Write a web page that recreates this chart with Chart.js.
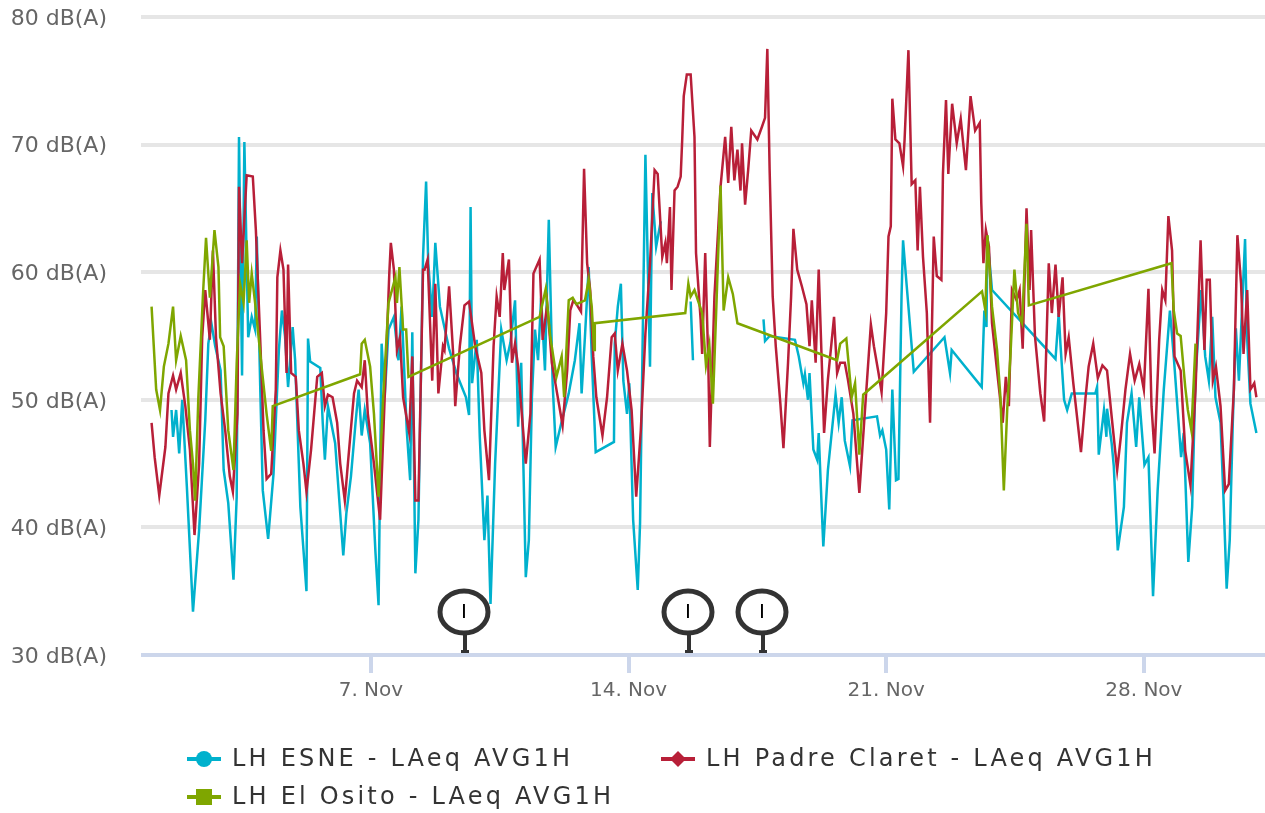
<!DOCTYPE html>
<html>
<head>
<meta charset="utf-8">
<style>html,body{margin:0;padding:0;background:#fff;overflow:hidden}#wrap{width:1265px;height:813px}canvas{display:block}</style>
<script src="https://cdn.jsdelivr.net/npm/chart.js@4"></script>
</head>
<body>
<div id="wrap"><canvas id="c" width="1265" height="813"></canvas></div>
<script>
// x = hours since 1 Nov 00:00, y = dB(A)
const tickHours = [144, 312, 480, 648];
const tickLabels = ['7. Nov', '14. Nov', '21. Nov', '28. Nov'];
const dbTicks = [30, 40, 50, 60, 70, 80];
const flagHours = [205, 351, 399];
const flagLabels = ['I', 'I', 'I'];
const seriesNames = ['LH ESNE - LAeq AVG1H', 'LH Padre Claret - LAeq AVG1H', 'LH El Osito - LAeq AVG1H'];

const esne = [[14,49.2],[15,47.1],[17,49.2],[19,45.8],[21,50],[24,43.2],[28,33.4],[32,39.8],[36,48.4],[38,54.4],[40,56],[42.5,54.2],[46,52.3],[48,44.5],[51,41.9],[54.4,35.9],[56.5,42.4],[58,70.6],[60,51.9],[61.5,70.2],[64,54.9],[66.3,56.5],[68.5,55.5],[69.6,62.8],[72,50.2],[73.5,42.9],[77,39.1],[80.5,44.2],[84,53.9],[86,57],[88,55],[90,51],[93,55.7],[94.6,53.1],[97,45],[98,41.6],[102,35],[103,54.8],[104.4,53],[111,52.5],[112.6,48.2],[114,45.3],[116,49.5],[120.7,46.6],[126,37.8],[128,41.1],[131,44],[134,48.2],[136,50.8],[138,47.2],[140,49.2],[143.5,46.6],[147,38],[149,33.9],[151,54.4],[153,50.2],[155.5,55.5],[159,56.5],[162,53.1],[164,57.3],[167.4,47.6],[169.6,43.7],[171,55.3],[173,36.4],[175,40.6],[178,61.2],[180,67.1],[181.4,60.7],[184,56.5],[186,62.3],[189,57.3],[195,54],[200,52],[206,50.2],[208,48.8],[209,65.1],[210,51.3],[213,54.7],[215,47.1],[218,39],[220,42.5],[222,34],[225,45],[229,55.5],[232.5,53.1],[235,54.5],[238,57.8],[240,47.9],[242,52.9],[245,36.1],[247,39],[249,50.2],[251,55.5],[253,53.1],[255,58],[257.5,52.3],[260,64.1],[262.5,51.3],[264.5,46.3],[268,48.1],[273,50.5],[277,53.1],[280,56],[281.4,50.5],[283.6,55],[286,60.4],[288,53.4],[290.6,45.9],[302.5,46.7],[303,54.4],[305,57.3],[307,59.1],[308.6,51.5],[311,48.9],[312.5,51.3],[315,40.6],[318,35.1],[319.5,40.3],[321.6,58],[323,69.2],[326,52.6],[327.5,66.2],[330,62],[333,64],[335,null],[352.5,57.7],[354,53.1],[355,null],[400,56.3],[401,54.6],[404,55],[420.5,54.7],[423,53.4],[426,51.3],[427,52],[429,50],[430,52.1],[432.5,46.1],[435,45.3],[436,47.4],[438,41.4],[439,38.5],[442,44.5],[447,50.4],[449,48.2],[451,50.2],[453,46.8],[456.4,44.8],[458,48.4],[474,48.7],[476,47.2],[477.5,47.6],[480,46.1],[482,41.4],[484,50.8],[486.4,43.7],[488,43.8],[490,58.1],[491,62.5],[493.4,58.9],[498,52.2],[518,54.9],[521.6,52.1],[522.7,53.9],[542.3,51],[544,57],[545.4,55.7],[546,62.8],[549,58.6],[590.4,53.2],[592.5,56.8],[593.6,54.4],[596,50],[598,49.2],[601,50.5],[616.4,50.5],[617.5,51],[618.6,45.7],[622,49.2],[623.6,47.1],[624,49.3],[627,46.6],[628.4,44.8],[631,38.2],[635,41.6],[637,48.2],[640,50.5],[643,46.3],[645,50.2],[648.4,44.9],[651,45.5],[654,34.6],[657,42.9],[661,50.8],[665,57],[667.5,53.4],[672.3,45.5],[674,47.4],[677,37.3],[679.5,41.6],[681.7,51.8],[685.4,58.6],[688,53.4],[690.4,51.5],[692.6,56.5],[694.7,50.2],[698,48.2],[700,42.1],[702,35.2],[704,39],[706,48.2],[708,55.6],[710,51.5],[714,62.6],[715.4,54.7],[717.5,49.7],[721.4,47.4]];

const padre = [[1,48.2],[3,45.5],[6,42.5],[10,46.3],[12,50.5],[15,51.9],[17,50.8],[20,52.1],[23,49.5],[26,46.1],[29,39.4],[32,45],[34,54.9],[36,58.6],[39,54.7],[41,61.7],[43,54.9],[46,50.5],[49,47.6],[52,44],[54,42.8],[57,48.9],[58,66.7],[60,60.7],[63,67.6],[67,67.5],[69,63.3],[72,54.2],[74,47.6],[76,43.8],[79,44.2],[82,50.8],[83,59.6],[85,61.7],[87,60.2],[89,52.1],[90,60.6],[92,52.1],[95,51.8],[97,47.6],[100,45],[102,42.8],[105,46.1],[109,51.8],[112,52.1],[114,49.5],[116,50.4],[119,50.2],[122,48.2],[124,45],[127,42.1],[129,45],[133,50.5],[135,51.5],[138,51],[140,53.1],[142,48.9],[146,45],[150,40.6],[153,50.2],[156,59.9],[157,62.3],[159,60.2],[161,53.9],[163,54.9],[165,50.2],[169,47.4],[171,53.4],[173,42.1],[175,42.1],[178,60.2],[179,60.2],[181,61],[184,51.5],[186,59.1],[188,50.5],[191,54.2],[192,53.9],[195,58.9],[198,52.9],[199,49.5],[202,54.2],[205,57.4],[208,57.7],[212,54.2],[216,52.1],[218,47.6],[221,43.7],[224,54.2],[226,58.1],[228,56.5],[230,61.5],[231,58.6],[234,61],[236,52.9],[238,54.4],[240,52.6],[242,49.5],[245,45],[248,48.9],[250,59.9],[254,61],[256,54.7],[259,57.5],[262,52.9],[265,50.8],[269,48],[272,52.3],[274,57],[276,57.8],[278,57.5],[281,56.9],[283,68.1],[285,60.7],[287,58.6],[289,53.4],[291,50.2],[295,47.2],[298,50.2],[301,54.9],[303,55.2],[305,52.3],[308,54.4],[311,52.3],[314,49.2],[317,42.4],[320,47.6],[323,55.2],[326,60.7],[329,68],[331,67.7],[334,61.2],[336,62.3],[337,60.7],[339,65.1],[340,58.6],[342,66.4],[344,66.7],[346,67.5],[347,70.4],[348,73.8],[350,75.5],[352.5,75.5],[355,70.6],[356,61.5],[359,56.3],[360,53.6],[362,61.5],[364,52.9],[365,46.3],[368,58.1],[372,66.7],[375,70.6],[377,67],[379,71.4],[381,67.2],[383,69.6],[385,66.4],[386,70.1],[388,65.3],[390,68],[392,71.1],[396,70.4],[399,71.4],[401,72.1],[402.5,77.5],[404,68],[406,58.1],[408,54.2],[411,49.7],[413,46.2],[416,52.9],[418,58.1],[419.5,63.4],[422,60.2],[425,58.9],[428,57.5],[430,54.2],[431.5,57.8],[434,52.9],[436,60.2],[438,52.9],[439.5,47.4],[442,51.6],[446,56.5],[448,52.1],[450,52.9],[453,52.9],[455,51.6],[458.6,48.9],[462.5,42.7],[466,48.9],[470,55.9],[472,54.2],[475,52.1],[477,50.6],[480,56.8],[481.5,62.8],[483,63.6],[484,73.6],[486,70.4],[488.6,70.1],[491,68.3],[492,70.4],[494.5,77.4],[496.6,66.9],[499,67.2],[500.5,61.7],[502,66.7],[504,61.2],[506.5,56.8],[508.6,48.2],[511,62.8],[513,59.7],[516,59.4],[517,67.7],[519,73.5],[520.5,67.7],[523,73.2],[526,70.1],[528.6,72],[532,68],[535,73.8],[538,71.1],[541,71.7],[542,65.4],[543.4,60.7],[545,63.3],[547,62],[549,56],[552,52.6],[556,48.2],[558,51.8],[560,49.5],[562,58.6],[565,57.8],[567,58.6],[569,54],[571.5,65],[573.5,58.6],[574.5,63.3],[577,55],[580.5,50.5],[583,48.3],[586,60.7],[588,56.8],[590.4,60.6],[592.5,56.5],[595,59.6],[597,53.6],[599,54.9],[602,51.3],[607,45.9],[610,50.2],[612,52.6],[615,54.4],[618,51.7],[621,52.7],[624,52.3],[627,48.7],[630.6,44.5],[633,47.1],[636,50.8],[639,53.6],[642,51.5],[645,52.8],[648,50.8],[651,58.7],[653,49.5],[655,45.8],[658,54.7],[660,58.6],[662,57.8],[664,64.4],[666.4,61.7],[668,53.4],[672,52.3],[675,46],[678.4,43.3],[681.7,50.8],[684,58.9],[685,62.5],[687.5,53.9],[689,59.4],[691,59.4],[693,51.5],[695,52.6],[698,49.5],[701,42.9],[703.4,43.4],[706.7,50.8],[709,62.9],[711.4,59.1],[713,53.6],[715.4,58.6],[717.5,50.8],[720,51.3],[721.4,50.2]];

const osito = [[1,57.3],[4,50.8],[6.5,49.2],[9,52.6],[12,54.4],[15,57.3],[17,53.1],[20,55],[23.5,53.1],[26,47.6],[28,45],[29.4,42.1],[31.5,50.2],[34.4,58],[36.5,62.7],[39,58],[42,63.3],[44.6,60.4],[45.7,54.9],[48,54.2],[51,47.6],[54.4,44.5],[56.5,52.9],[58.7,59.1],[61,57.6],[63,62.5],[64.6,57.6],[66.3,59.9],[68.5,57.6],[73,52.3],[76,48.9],[79,46],[80,49.5],[137,52],[138,54.4],[140,54.7],[143.5,52.6],[146,48.9],[149,42.4],[152,50.2],[155.5,57.6],[160,59.6],[161,57.6],[162.6,60.4],[165,55.5],[167,55.5],[168.5,51.8],[254,56.5],[258,58.7],[261,54.9],[265,51.8],[268.4,53.4],[270,50.2],[273,57.8],[275.6,58],[278,57.5],[283.6,57.8],[286,59.4],[288,57.3],[289.5,53.9],[290,56],[349,56.8],[351,59.1],[352.5,58.1],[355,58.6],[360,56.8],[362.5,52.7],[364.7,54.3],[367,49.7],[369.5,58.1],[372,66.8],[374,57],[377,59.6],[380,58.3],[383,56],[448,53.1],[450,54.4],[454,54.8],[457.5,50.2],[459.7,51.3],[462.5,45.7],[465,50.4],[542.5,58.5],[544.7,57],[546,62.9],[549,57.3],[552.3,53.9],[554.5,50.2],[556.7,42.9],[559,49.5],[561,53.4],[563.6,60.2],[566,56.8],[568.6,56],[571.5,63.8],[573,57.4],[666,60.7],[667.5,57],[669.7,55.2],[672,55],[675,51],[676.7,49.2],[679,47.6],[681.7,54.4]];

const COLORS = {esne:'#00b1cd', padre:'#b81f38', osito:'#7fa600'};
const pts = a => a.map(p => ({x:p[0], y:p[1]}));
const FONT = 'DejaVu Sans, Verdana, sans-serif';

const flagsAndLegend = {
  id:'flagsAndLegend',
  afterDatasetsDraw(chart){
    const {ctx, scales:{x,y}} = chart;
    ctx.save();
    flagHours.forEach((h,i)=>{
      const px = Math.round(x.getPixelForValue(h)), base = y.getPixelForValue(30)-2;
      const cy = base-41;
      ctx.fillStyle='#333';
      ctx.fillRect(px-1,cy+18,4,base-cy-18);
      ctx.fillRect(px-3,base-3,8,3);
      ctx.strokeStyle='#333';
      ctx.beginPath(); ctx.ellipse(px,cy,24,21,0,0,Math.PI*2);
      ctx.fillStyle='#fff'; ctx.fill(); ctx.lineWidth=5; ctx.stroke();
      ctx.fillStyle='#000'; ctx.font='20px '+FONT; ctx.textAlign='center'; ctx.textBaseline='middle';
      ctx.fillText(flagLabels[i],px,cy+1);
    });
    ctx.restore();
  },
  afterDraw(chart){
    const {ctx} = chart;
    const items = [{x:187,y:759,shape:'circle'},{x:661,y:759,shape:'diamond'},{x:187,y:797,shape:'square'}];
    ctx.save();
    items.forEach((it,i)=>{
      const ds = chart.data.datasets[i];
      const c = ds.borderColor;
      ctx.strokeStyle=c; ctx.fillStyle=c; ctx.lineWidth=4;
      ctx.beginPath(); ctx.moveTo(it.x,it.y); ctx.lineTo(it.x+34,it.y); ctx.stroke();
      const mx = it.x+17;
      ctx.beginPath();
      if(it.shape==='circle') ctx.arc(mx,it.y,8,0,Math.PI*2);
      if(it.shape==='diamond'){ctx.moveTo(mx,it.y-8);ctx.lineTo(mx+8,it.y);ctx.lineTo(mx,it.y+8);ctx.lineTo(mx-8,it.y);ctx.closePath();}
      if(it.shape==='square') ctx.rect(mx-8,it.y-8,16,16);
      ctx.fill();
      ctx.fillStyle='#333'; ctx.font='24px '+FONT; ctx.textAlign='left'; ctx.textBaseline='middle';
      ctx.letterSpacing='3.2px';
      ctx.fillText(ds.label,it.x+45,it.y+1);
      ctx.letterSpacing='0px';
    });
    ctx.restore();
  }
};

new Chart(document.getElementById('c'),{
  type:'line',
  data:{datasets:[
    {label:seriesNames[0],data:pts(esne),borderColor:COLORS.esne,borderWidth:2.5,pointRadius:0,tension:0,spanGaps:false,order:3},
    {label:seriesNames[1],data:pts(padre),borderColor:COLORS.padre,borderWidth:2.5,pointRadius:0,tension:0,spanGaps:false,order:2},
    {label:seriesNames[2],data:pts(osito),borderColor:COLORS.osito,borderWidth:2.5,pointRadius:0,tension:0,spanGaps:false,order:1}
  ]},
  options:{
    responsive:false,animation:false,devicePixelRatio:1,
    layout:{padding:{top:17,left:0,right:0,bottom:0}},
    plugins:{legend:{display:false},tooltip:{enabled:false},title:{display:false}},
    scales:{
      x:{type:'linear',min:-5.9,max:727,
        afterBuildTicks(s){s.ticks=tickHours.map(v=>({value:v}));},
        afterFit(s){s.height=158;s.paddingLeft=0;s.paddingRight=0;},
        border:{display:false},
        grid:{drawOnChartArea:false,drawTicks:true,tickLength:18,tickWidth:4,tickColor:'#ccd6eb',color:'#ccd6eb',lineWidth:4},
        ticks:{autoSkip:false,maxRotation:0,padding:6,color:'#666',font:{family:FONT,size:20},
          callback(v){return tickLabels[tickHours.indexOf(v)];}}
      },
      y:{type:'linear',min:30,max:80,
        afterBuildTicks(s){s.ticks=dbTicks.map(v=>({value:v}));},
        afterFit(s){s.width=141;s.paddingTop=0;s.paddingBottom=0;},
        border:{display:false},
        grid:{drawTicks:false,lineWidth:4,color(c){return c.tick&&c.tick.value===30?'#ccd6eb':'#e6e6e6';}},
        ticks:{padding:34,color:'#666',font:{family:FONT,size:22},labelOffset:2,
          callback(v){return v+' dB(A)';}}
      }
    }
  },
  plugins:[flagsAndLegend]
});
</script>
</body>
</html>
